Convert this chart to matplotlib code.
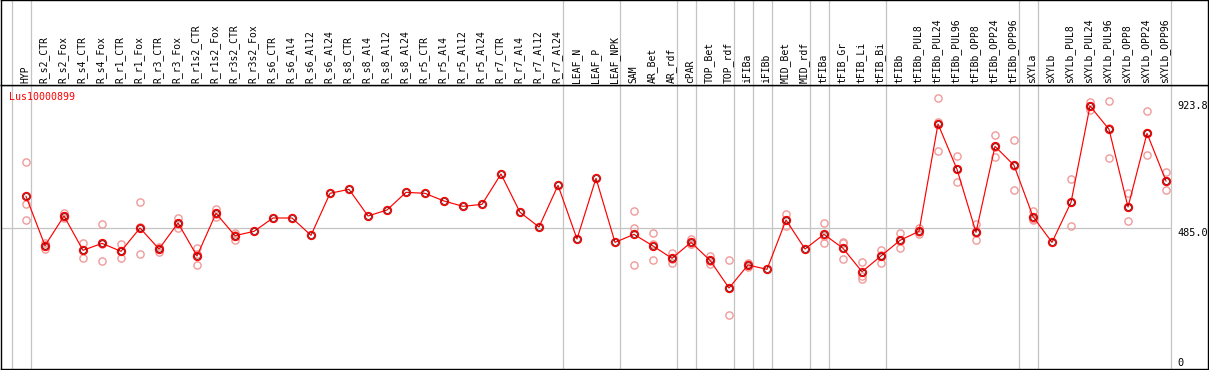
import matplotlib
matplotlib.use("Agg")
import matplotlib.pyplot as plt

categories = [
    "HYP", "R_s2_CTR", "R_s2_Fox", "R_s4_CTR", "R_s4_Fox", "R_r1_CTR", "R_r1_Fox",
    "R_r3_CTR", "R_r3_Fox", "R_r1s2_CTR", "R_r1s2_Fox", "R_r3s2_CTR", "R_r3s2_Fox",
    "R_s6_CTR", "R_s6_Al4", "R_s6_Al12", "R_s6_Al24", "R_s8_CTR", "R_s8_Al4",
    "R_s8_Al12", "R_s8_Al24", "R_r5_CTR", "R_r5_Al4", "R_r5_Al12", "R_r5_Al24",
    "R_r7_CTR", "R_r7_Al4", "R_r7_Al12", "R_r7_Al24", "LEAF_N", "LEAF_P", "LEAF_NPK",
    "SAM", "AR_Bet", "AR_rdf", "cPAR", "TOP_Bet", "TOP_rdf", "iFIBa", "iFIBb",
    "MID_Bet", "MID_rdf", "tFIBa", "tFIB_Gr", "tFIB_Li", "tFIB_Bi", "tFIBb",
    "tFIBb_PUL8", "tFIBb_PUL24", "tFIBb_PUL96", "tFIBb_OPP8", "tFIBb_OPP24",
    "tFIBb_OPP96", "sXYLa", "sXYLb", "sXYLb_PUL8", "sXYLb_PUL24", "sXYLb_PUL96",
    "sXYLb_OPP8", "sXYLb_OPP24", "sXYLb_OPP96",
]

# number of samples in each group (separators drawn after each group)
group_sizes = [1, 28, 3, 3, 1, 2, 1, 1, 2, 1, 3, 7, 1, 7]

means = [
    598.9, 421.5, 528.2, 404.7, 429.8, 401.1, 485.0, 409.5, 503.0, 384.3,
    537.8, 457.4, 473.0, 521.0, 521.0, 458.6, 609.7, 624.1, 528.2, 549.7,
    613.3, 609.7, 582.1, 562.9, 570.1, 679.2, 541.4, 488.6, 638.5, 445.4,
    663.7, 433.4, 462.2, 420.3, 375.9, 433.4, 368.7, 269.2, 351.9, 336.3,
    513.8, 409.5, 462.2, 411.9, 327.9, 384.3, 440.6, 473.0, 859.1, 696.0,
    469.4, 778.8, 710.4, 525.8, 433.4, 577.3, 923.8, 839.9, 560.5, 825.5,
    654.1,
]

replicates = [
    [722.4, 570.1, 513.8], [432.2, 408.3, 424.0], [537.8, 519.8, 528.0],
    [429.8, 377.1, 405.9], [498.2, 365.1, 426.2], [426.2, 375.9, 401.1],
    [577.3, 390.3, 487.4], [415.5, 398.7, 411.9], [522.2, 486.2, 500.6],
    [411.9, 350.7, 390.3], [552.1, 525.8, 535.4], [468.2, 441.8, 459.8],
    [], [], [], [], [], [], [], [], [], [], [], [], [], [], [], [], [], [], [], [],
    [546.1, 486.2, 351.9], [465.8, 368.7, 426.4], [396.3, 357.9, 373.5],
    [444.2, 427.4, 428.6], [385.5, 355.5, 365.1], [368.7, 170.9, 268.0],
    [357.9, 343.5, 354.3], [], [535.4, 492.2, 513.8], [],
    [501.8, 429.8, 455.0], [433.4, 372.3, 430.0], [361.5, 313.5, 301.6],
    [405.9, 357.9, 389.1], [468.2, 414.3, 439.3], [483.8, 463.4, 471.8],
    [951.4, 760.8, 865.1], [742.8, 649.3, 695.9], [499.4, 440.6, 468.2],
    [819.5, 739.2, 777.7], [800.3, 621.7, 709.2], [546.1, 513.8, 517.5],
    [], [661.3, 492.2, 578.4], [939.4, 909.4, 922.6], [940.6, 735.6, 843.5],
    [610.9, 509.0, 561.6], [904.7, 746.4, 825.4], [685.2, 621.7, 655.4],
]

gene_name = "Lus10000899"
ref_value = 485.0
max_value = 923.8

W, H = 1209, 370
fig = plt.figure(figsize=(W / 100, H / 100), dpi=100)


def rect(x0, y0, x1, y1):
    return [x0 / W, 1 - y1 / H, (x1 - x0) / W, (y1 - y0) / H]


ax = fig.add_axes(rect(1, 85, 1208, 369))
hax = fig.add_axes(rect(1, 0, 1208, 85), sharex=ax)

n = len(categories)
xs = list(range(n))
ax.set_xlim(-1.316, 62.21)
ax.set_ylim(-22.1, 999.3)
hax.set_ylim(0, 1)

for a in (ax, hax):
    a.set_xticks([])
    a.set_yticks([])
    for s in a.spines.values():
        s.set_color("black")
        s.set_linewidth(1.0)

grid_c = "#c4c4c4"
seps = [-1]
acc = -1
for g in group_sizes:
    acc += g
    seps.append(acc)
for s in seps:
    for a in (ax, hax):
        a.axvline(s + 0.247, color=grid_c, lw=0.9, zorder=0)

ax.hlines(ref_value, -1.316, seps[-1] + 0.247, color=grid_c, lw=0.9, zorder=0)

rep_c = "#f09a9a"
for i, reps in enumerate(replicates):
    if reps:
        ax.plot([i] * len(reps), reps, linestyle="none", marker="o", ms=5.2,
                mfc="none", mec=rep_c, mew=1.0, zorder=2)

ax.plot(xs, means, color="red", lw=0.85, zorder=3)
ax.plot(xs, means, linestyle="none", marker="o", ms=5.6, mfc="none",
        mec="red", mew=1.1, zorder=4)
ax.plot(xs, means, linestyle="none", marker="o", ms=4.1, mfc="none",
        mec="#400000", mew=0.45, zorder=5)

mono = "DejaVu Sans Mono"
for i, c in enumerate(categories):
    hax.text(i - 0.05, 0.02, c, rotation=90, ha="center", va="bottom",
             fontsize=7, family=mono, color="black")

ax.text(0.0066, 0.958, gene_name, transform=ax.transAxes, ha="left",
        va="center", fontsize=7.2, family=mono, color="red")

lx = seps[-1] + 0.62
ax.text(lx, max_value, f"{max_value:.1f}", ha="left", va="center",
        fontsize=7.4, family=mono, color="black", clip_on=False)
ax.text(lx, ref_value, f"{ref_value:.1f}", ha="left", va="top",
        fontsize=7.4, family=mono, color="black", clip_on=False)
ax.text(lx, 0, "0", ha="left", va="center",
        fontsize=7.4, family=mono, color="black", clip_on=False)

fig.savefig("out.png", dpi=100)
